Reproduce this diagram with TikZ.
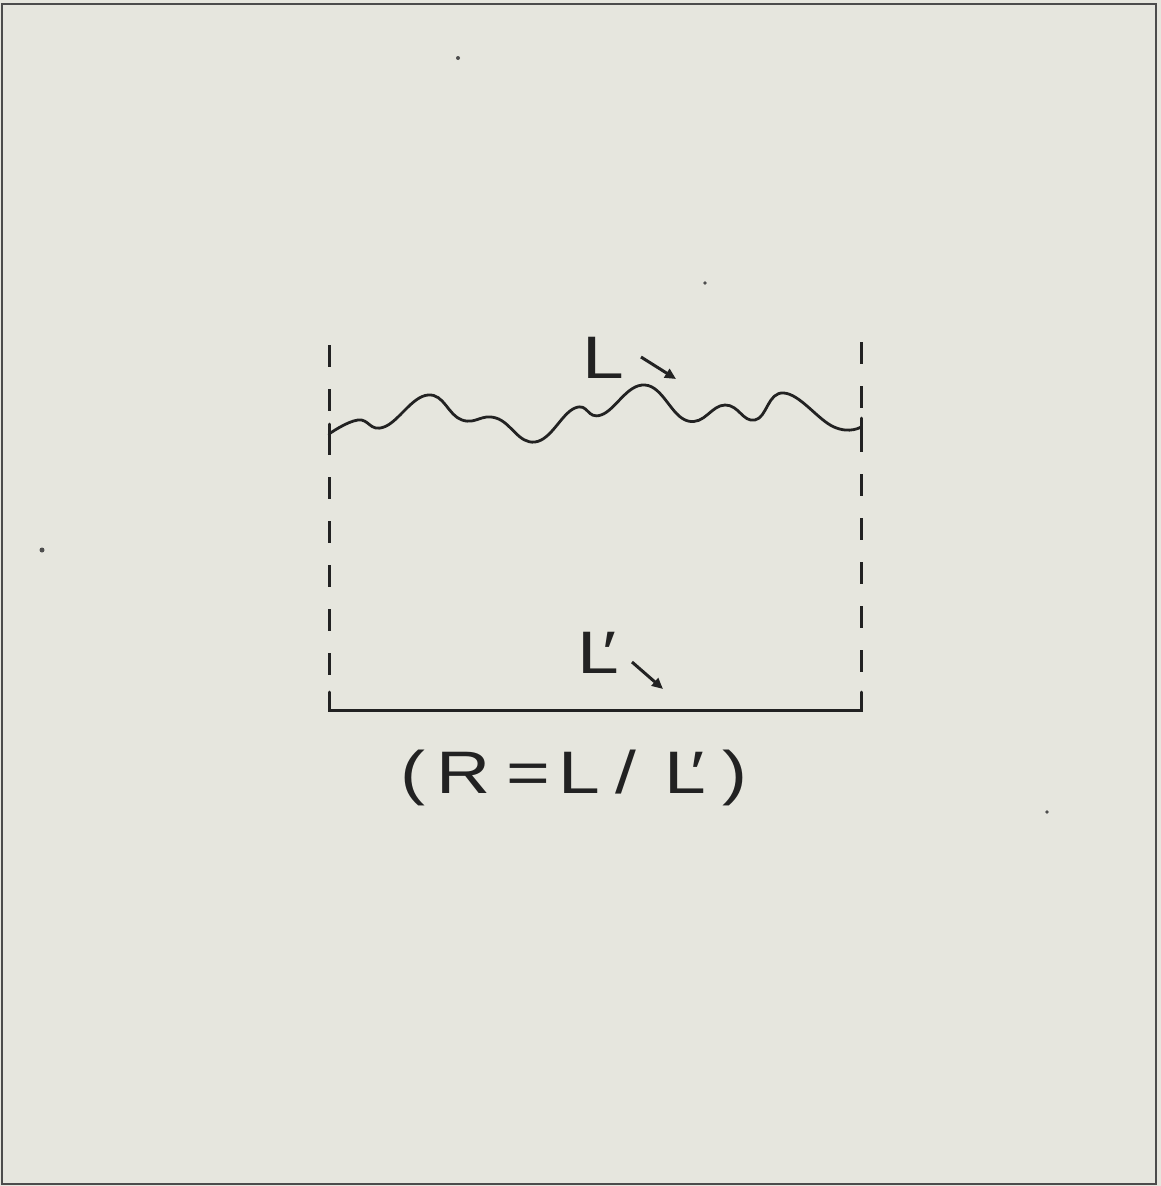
\documentclass[tikz,border=0pt]{standalone}
\usepackage{fontspec}
\setmainfont{Liberation Sans}
\newfontfamily\lettering[FakeStretch=1.25]{Liberation Sans}
\usetikzlibrary{arrows.meta}
\definecolor{paper}{HTML}{E6E6DE}
\definecolor{ink}{HTML}{222222}
\tikzset{
  ln/.style={draw=ink, line width=3pt, line cap=round},
  dashln/.style={ln, line cap=butt, dash pattern=on 22pt off 22pt},
  lbl/.style={inner sep=0pt, anchor=base west, text=ink, font=\lettering\fontsize{60}{60}\selectfont},
  ptr/.style={draw=ink, line width=3pt, -{Triangle[length=11pt,width=10pt]}},
  speck/.style={fill=ink!80, draw=none}
}
\begin{document}
\begin{tikzpicture}[x=1pt,y=-1pt]
\fill[paper] (0,0) rectangle (1161,1186);
\useasboundingbox (0,0) rectangle (1161,1186);
\draw[draw=gray!60!black, line width=2pt] (2,4) rectangle (1156,1184);
% side walls (dashed) and base
\coordinate (lt) at (329,345);
\coordinate (rt) at (861,342);
\coordinate (lb) at (329,710);
\coordinate (rb) at (861,710);
\draw[dashln] (lt) -- (329,690);
\draw[dashln] (rt) -- (861,690);
\draw[ln] (329,692) -- (lb) -- (rb) -- (861,692);
% rough surface
\draw[ln, line width=2.8pt] plot[smooth, tension=0.75] coordinates {
 (329,434) (358,420) (384,427) (428,395) (462,420) (496,418) (535,442)
 (575,408) (601,415) (645,385) (688,421) (725,405) (755,420) (784,393)
 (834,427) (861,427)};
\draw[ln] (329,424) -- (329,446);
\draw[ln] (861,418) -- (861,438);
% labels
\node[lbl] (L) at (582,378) {L};
\coordinate (La) at (641,357);
\coordinate (Lt) at (676,379);
\draw[ptr] (La) -- (Lt);
\node[lbl] (Lp) at (577,673) {L\kern-16pt′};
\coordinate (Lpa) at (632,662);
\coordinate (Lpt) at (663,689);
\draw[ptr] (Lpa) -- (Lpt);
\node[lbl] (R) at (400,793) {(\kern11pt R\kern16pt =\kern8pt L\kern16pt /\kern28pt L\kern-16pt ′\kern18pt )};
% specks
\fill[speck] (458,58) circle (2pt);
\fill[speck] (705,283) circle (1.8pt);
\fill[speck] (42,550) circle (2.5pt);
\fill[speck] (1047,812) circle (1.8pt);
\end{tikzpicture}
\end{document}
